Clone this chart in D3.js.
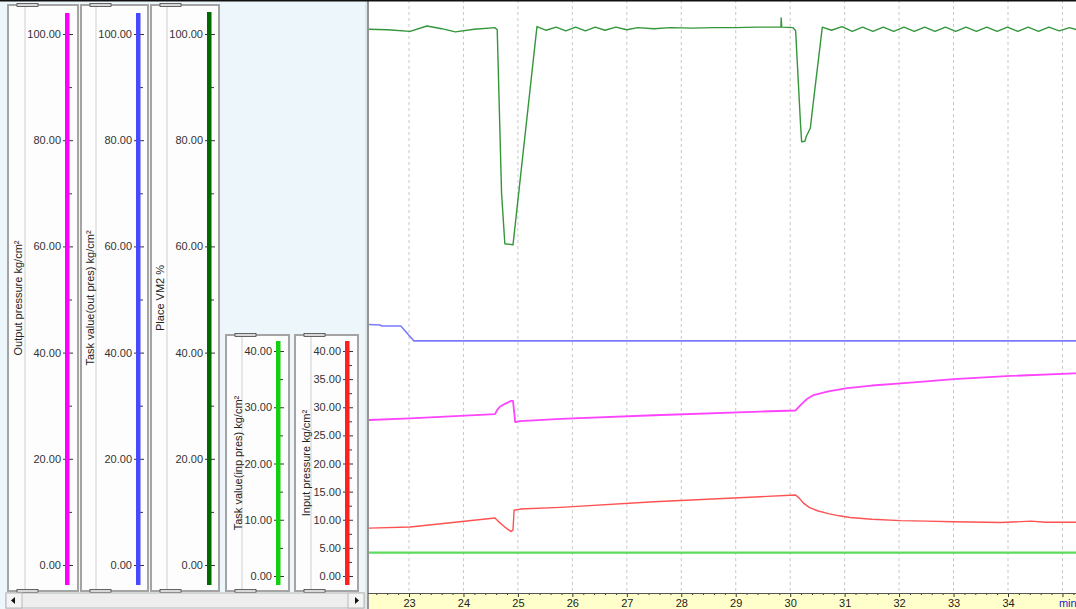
<!DOCTYPE html>
<html>
<head>
<meta charset="utf-8">
<script src="https://cdn.jsdelivr.net/npm/d3@7"></script>
<style>
  body { margin: 0; background: #fff; }
  svg { display: block; font-family: "Liberation Sans", Arial, sans-serif; }
</style>
</head>
<body>
<svg width="1076" height="609"></svg>
<script>
const width = 1076, height = 609;

// Time axis (minutes) and its labels
const timeTicks = [23, 24, 25, 26, 27, 28, 29, 30, 31, 32, 33, 34, 35];
const timeLabels = ["23", "24", "25", "26", "27", "28", "29", "30", "31", "32", "33", "34", "min"];

// Axis panel titles
const panelTitles = [
    "Output pressure  kg/cm²",
    "Task value(out pres) kg/cm²",
    "Place VM2  %",
    "Task value(inp pres) kg/cm²",
    "Input pressure  kg/cm²"
];

// Series, [minute, value]
const placeVM2 = [
    [22.25, 100.9], [22.6, 100.8], [23.02, 100.5], [23.33, 101.5], [23.6, 101.0], [23.85, 100.4],
    [24.2, 100.9], [24.58, 101.2], [24.62, 100.8], [24.70, 70], [24.76, 60.5], [24.91, 60.3],
    [25.35, 101.4], [25.52, 100.7], [25.70, 101.3], [25.88, 100.6], [26.06, 101.3], [26.24, 100.6],
    [26.42, 101.3], [26.60, 100.7], [26.80, 101.3], [27.00, 100.8], [27.2, 101.2], [27.5, 101.0],
    [27.8, 101.2], [28.2, 101.1], [28.6, 101.2], [29.0, 101.2],
    [29.4, 101.3], [29.83, 101.3], [29.835, 103.0], [29.845, 101.3], [30.05, 101.2], [30.10, 100.6],
    [30.19, 83], [30.21, 79.7], [30.27, 79.8], [30.30, 80.8], [30.37, 82.3], [30.43, 87.6],
    [30.59, 101.3], [30.76, 100.7], [30.95, 101.4], [31.14, 100.5], [31.33, 101.3], [31.52, 100.5],
    [31.71, 101.3], [31.90, 100.5], [32.09, 101.3], [32.28, 100.5], [32.47, 101.3], [32.66, 100.5],
    [32.85, 101.3], [33.04, 100.5], [33.23, 101.3], [33.42, 100.5], [33.61, 101.3], [33.80, 100.5],
    [33.99, 101.3], [34.18, 100.5], [34.37, 101.3], [34.56, 100.5], [34.75, 101.3], [34.94, 100.6],
    [35.13, 101.2], [35.30, 100.7]
];

const taskOutPres = [
    [22.25, 45.3], [22.47, 45.2], [22.50, 45.0], [22.85, 45.0], [23.09, 42.2], [35.30, 42.2]
];

const outputPressure = [
    [22.25, 27.3], [23.02, 27.6], [24.58, 28.4], [24.62, 29.2], [24.67, 29.8], [24.77, 30.4],
    [24.875, 30.9], [24.91, 30.9], [24.95, 26.9], [25.04, 27.1], [25.78, 27.5], [27.5, 28.2],
    [29.45, 28.9], [30.10, 29.1], [30.19, 30.1], [30.30, 31.2], [30.43, 32.0], [30.70, 32.7],
    [31.05, 33.3], [31.5, 33.8], [32.03, 34.2], [32.5, 34.6], [33.0, 35.0], [34.05, 35.6],
    [35.21, 36.1], [35.30, 36.1]
];

const inputPressure = [
    [22.25, 8.5], [23.02, 8.7], [24.58, 10.3], [24.63, 9.8], [24.70, 9.2], [24.76, 8.7],
    [24.875, 7.9], [24.91, 8.2], [24.93, 11.7], [25.04, 11.9], [25.78, 12.2], [27.5, 13.2],
    [29.45, 14.1], [30.10, 14.4], [30.17, 13.8], [30.25, 12.9], [30.35, 12.2], [30.50, 11.6],
    [30.70, 11.1], [30.90, 10.7], [31.1, 10.4], [31.5, 10.1], [32.03, 9.85], [32.5, 9.75], [33.0, 9.65],
    [33.86, 9.5], [34.42, 9.75], [34.69, 9.55], [35.30, 9.55]
];

const taskInpPres = [
    [22.25, 4.15], [35.30, 4.15]
];

const svg = d3.select("svg").attr("width", width).attr("height", height);

// ---------- left area (value axes) ----------
svg.append("rect").attr("x", 0).attr("y", 0).attr("width", 367).attr("height", height)
    .attr("fill", "#edf6fb");

const yBig = d3.scaleLinear().domain([0, 100]).range([565, 34]);
const ySmall = d3.scaleLinear().domain([0, 40]).range([576, 351]);

const panels = [
    { title: panelTitles[0], x: 8, w: 70, top: 5, inner: 25, bar: 65, labelX: 18, color: "#ff00ff", y: yBig,
      major: d3.range(0, 101, 20), minor: d3.range(10, 100, 20), barTop: 13 },
    { title: panelTitles[1], x: 81, w: 67, top: 5, inner: 96, bar: 136, labelX: 90, color: "#4848ff", y: yBig,
      major: d3.range(0, 101, 20), minor: d3.range(10, 100, 20), barTop: 13 },
    { title: panelTitles[2], x: 151, w: 68, top: 5, inner: 167, bar: 207, labelX: 160, color: "#006a00", y: yBig,
      major: d3.range(0, 101, 20), minor: d3.range(10, 100, 20), barTop: 12 },
    { title: panelTitles[3], x: 226, w: 63, top: 335, inner: 242, bar: 276, labelX: 238, color: "#10d010", y: ySmall,
      major: d3.range(0, 41, 10), minor: d3.range(5, 40, 10), barTop: 341 },
    { title: panelTitles[4], x: 295, w: 63, top: 335, inner: 311, bar: 345, labelX: 306, color: "#ff2020", y: ySmall,
      major: d3.range(0, 41, 5), minor: d3.range(2.5, 40, 5), barTop: 341 }
];

const panelBottom = 591;

panels.forEach(p => {
    const g = svg.append("g");
    g.append("rect").attr("x", p.x).attr("y", p.top).attr("width", p.w).attr("height", panelBottom - p.top)
        .attr("fill", "#fdfdfd").attr("stroke", "#a4a4a4").attr("stroke-width", 2);
    g.append("line").attr("x1", p.inner).attr("x2", p.inner).attr("y1", p.top).attr("y2", panelBottom)
        .attr("stroke", "#d0d0d0");

    // little tabs top and bottom
    [p.top, panelBottom].forEach(ty => {
        g.append("rect").attr("x", p.x + 9).attr("y", ty - 1.5).attr("width", 21).attr("height", 3)
            .attr("fill", "#d8d8d8").attr("stroke", "#444").attr("stroke-width", 0.8);
    });

    // major ticks + labels
    const axis = d3.axisLeft(p.y).tickValues(p.major).tickFormat(d3.format(".2f"))
        .tickSize(-10).tickPadding(2);
    const ga = g.append("g").attr("transform", `translate(${p.bar - 2},0)`).call(axis);
    ga.select(".domain").remove();
    ga.selectAll(".tick line").attr("stroke", "#333");
    ga.selectAll(".tick text").attr("fill", "#333").attr("font-size", 11)
        .attr("font-family", "Liberation Sans, Arial, sans-serif");

    // minor ticks
    const minorAxis = d3.axisLeft(p.y).tickValues(p.minor).tickFormat("").tickSize(-7);
    const gm = g.append("g").attr("transform", `translate(${p.bar},0)`).call(minorAxis);
    gm.select(".domain").remove();
    gm.selectAll(".tick line").attr("stroke", "#333");

    // coloured bar
    g.append("rect").attr("x", p.bar).attr("y", p.barTop).attr("width", 4.5).attr("height", 585 - p.barTop)
        .attr("fill", p.color);

    // title
    g.append("text")
        .attr("transform", `translate(${p.labelX},${(p.top + panelBottom) / 2}) rotate(-90)`)
        .attr("text-anchor", "middle").attr("dy", "0.35em")
        .attr("font-size", 11).attr("fill", "#222")
        .text(p.title);
});

// scrollbar under panels
const sb = svg.append("g");
sb.append("rect").attr("x", 6).attr("y", 593).attr("width", 358).attr("height", 15)
    .attr("fill", "#eeeeee").attr("stroke", "#b8b8b8");
sb.append("rect").attr("x", 6).attr("y", 593).attr("width", 16).attr("height", 15)
    .attr("fill", "#f4f4f4").attr("stroke", "#b8b8b8");
sb.append("rect").attr("x", 348).attr("y", 593).attr("width", 16).attr("height", 15)
    .attr("fill", "#f4f4f4").attr("stroke", "#b8b8b8");
sb.append("path").attr("d", "M11,600.5 L15,597 L15,604 Z").attr("fill", "#111");
sb.append("path").attr("d", "M359,600.5 L355,597 L355,604 Z").attr("fill", "#111");

// ---------- main trend area ----------
const plotLeft = 368, plotRight = width, plotBottom = 593;

const x = d3.scaleLinear().domain([23, 34]).range([409, 1008]);

svg.append("rect").attr("x", plotLeft).attr("y", 0).attr("width", plotRight - plotLeft).attr("height", plotBottom)
    .attr("fill", "#ffffff");

svg.append("defs").append("clipPath").attr("id", "plotClip")
    .append("rect").attr("x", plotLeft + 1).attr("y", 0).attr("width", plotRight - plotLeft).attr("height", plotBottom);

// dashed grid
svg.append("g").selectAll("line").data(timeTicks).join("line")
    .attr("x1", d => x(d)).attr("x2", d => x(d)).attr("y1", 0).attr("y2", plotBottom)
    .attr("stroke", "#c8c8c8").attr("stroke-dasharray", "3,3");

const plot = svg.append("g").attr("clip-path", "url(#plotClip)");

const series = [
    { data: taskInpPres, y: ySmall, color: "#5cdc5c", w: 2.4 },
    { data: inputPressure, y: ySmall, color: "#ff5252", w: 1.4 },
    { data: outputPressure, y: yBig, color: "#ff44ff", w: 1.8 },
    { data: taskOutPres, y: yBig, color: "#7b7bff", w: 1.6 },
    { data: placeVM2, y: yBig, color: "#33963a", w: 1.4 }
];

series.forEach(s => {
    const line = d3.line().x(d => x(d[0])).y(d => s.y(d[1]));
    plot.append("path").datum(s.data).attr("d", line)
        .attr("fill", "none").attr("stroke", s.color).attr("stroke-width", s.w)
        .attr("stroke-linejoin", "round");
});

// left border of plot
svg.append("line").attr("x1", plotLeft).attr("x2", plotLeft).attr("y1", 0).attr("y2", height)
    .attr("stroke", "#7a7a7a").attr("stroke-width", 1.6);
svg.append("line").attr("x1", 366).attr("x2", 366).attr("y1", 0).attr("y2", height)
    .attr("stroke", "#d6d6d6");

// time axis band
svg.append("rect").attr("x", plotLeft + 1).attr("y", plotBottom).attr("width", plotRight - plotLeft)
    .attr("height", height - plotBottom).attr("fill", "#ffffcc");

const xAxis = d3.axisBottom(x).tickValues(timeTicks).tickSize(4).tickPadding(2)
    .tickFormat((d, i) => timeLabels[i]);
const gx = svg.append("g").attr("transform", `translate(0,${plotBottom})`).call(xAxis);
gx.select(".domain").remove();
gx.selectAll(".tick line").attr("stroke", "#333");
gx.selectAll(".tick text").attr("font-size", 11).attr("fill", "#222")
    .attr("font-family", "Liberation Sans, Arial, sans-serif");
gx.selectAll(".tick text").filter((d, i) => timeLabels[i] === "min")
    .attr("fill", "#1a1acc").attr("text-anchor", "start").attr("dx", -4);

const minorTimes = d3.range(22.4, 35.3, 0.2).filter(t => Math.abs(t - Math.round(t)) > 0.05);
const xMinor = d3.axisBottom(x).tickValues(minorTimes).tickSize(2).tickFormat("");
const gxm = svg.append("g").attr("transform", `translate(0,${plotBottom})`).call(xMinor);
gxm.select(".domain").remove();
gxm.selectAll(".tick line").attr("stroke", "#333");

svg.append("line").attr("x1", plotLeft).attr("x2", plotRight).attr("y1", plotBottom + 0.5).attr("y2", plotBottom + 0.5)
    .attr("stroke", "#555");

// top dark edge
svg.append("line").attr("x1", 0).attr("x2", width).attr("y1", 0.75).attr("y2", 0.75)
    .attr("stroke", "#111").attr("stroke-width", 1.5);
</script>
</body>
</html>
